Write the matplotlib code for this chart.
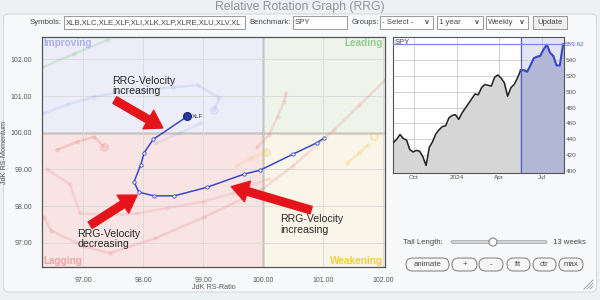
import matplotlib
matplotlib.use("Agg")
import matplotlib.pyplot as plt
from matplotlib.patches import Rectangle, FancyBboxPatch, Circle
import pandas as pd
import numpy as np

plt.rcParams['font.family'] = ['Liberation Sans', 'DejaVu Sans']

# ---------------- data ----------------
# XLF tail (JdK RS-Ratio, JdK RS-Momentum), oldest -> latest
xlf_ratio = [101.01, 100.90, 100.49, 99.95, 99.68, 99.06, 98.52, 98.18, 97.93, 97.85, 97.96, 98.02, 98.17, 98.74]
xlf_mom   = [99.85, 99.73, 99.41, 98.98, 98.87, 98.51, 98.28, 98.28, 98.38, 98.66, 99.12, 99.46, 99.82, 100.45]

# faded tails of the other symbols
green_ratio = [96.32, 96.85, 97.41]
green_mom   = [101.78, 102.15, 102.53]
lav1_ratio = [96.35, 96.75, 97.18, 97.6, 98.02, 98.5, 98.91, 99.27, 99.18]
lav1_mom   = [100.53, 100.78, 100.98, 101.1, 101.16, 101.24, 101.3, 100.95, 100.62]
lav2_ratio = [98.21, 98.6, 98.96]
lav2_mom   = [99.71, 99.98, 100.26]
red1_ratio = [96.56, 96.9, 97.18, 97.35]
red1_mom   = [99.53, 99.75, 99.89, 99.62]
red2_ratio = [96.4, 96.78, 96.95, 97.45, 97.9, 98.4, 99.0, 99.5, 100.1]
red2_mom   = [99.0, 98.6, 97.8, 97.75, 97.8, 97.95, 98.12, 98.35, 98.75]
red3_ratio = [96.35, 96.47, 97.02, 97.45, 98.2, 99.02, 99.97, 100.5, 101.18, 101.6, 102.03]
red3_mom   = [97.7, 97.33, 96.9, 96.72, 97.12, 97.7, 98.44, 99.1, 100.07, 100.75, 101.43]
red4_ratio = [99.9, 100.1, 100.24, 100.35, 100.38]
red4_mom   = [99.6, 99.95, 100.44, 100.85, 101.07]
yel1_ratio = [101.4, 101.6, 101.74]
yel1_mom   = [99.17, 99.45, 99.66]
yel2_ratio = [99.55, 99.8, 100.05]
yel2_mom   = [99.1, 99.3, 99.48]
yel_heads_ratio = [101.85, 100.05]
yel_heads_mom   = [99.9, 99.48]

# SPY weekly closes
spy_start = '2023-08-18'
spy_close = [436, 440, 446, 441, 439, 427, 424, 426, 425, 418, 407, 430, 437, 447, 452, 456,
             457, 467, 470, 471, 465, 473, 479, 485, 491, 497, 496, 505, 509, 508, 507, 518,
             521, 517, 511, 494, 505, 509, 517, 527, 527, 525, 533, 542, 544, 545, 553, 559,
             549, 545, 533, 533, 559.62]
tail_len = 13

x_ticks = [97, 98, 99, 100, 101, 102]
y_ticks = [97, 98, 99, 100, 101, 102]
spy_yticks = [400, 420, 440, 460, 480, 500, 520, 540]

# ---------------- figure ----------------
W, H = 600, 300
fig = plt.figure(figsize=(6, 3), dpi=100)

def frac(x0, y0, x1, y1):
    return [x0 / W, 1 - y1 / H, (x1 - x0) / W, (y1 - y0) / H]

bg = fig.add_axes([0, 0, 1, 1], zorder=0)
bg.set_xlim(0, W)
bg.set_ylim(H, 0)
bg.axis('off')
bg.add_patch(Rectangle((0, 0), W, H, color='#eef1f4'))
bg.add_patch(FancyBboxPatch((3.5, 14), 593, 278, boxstyle='round,pad=0,rounding_size=5',
                            fc='#f8f9fa', ec='#d6dade', lw=0.8))
bg.text(300, 1.2, 'Relative Rotation Graph (RRG)', ha='center', va='top', fontsize=8.8, color='#8f959c')

tk = dict(fontsize=5.6, color='#444444', va='center')
cy = 22.5
bg.text(30, cy, 'Symbols:', **tk)
def box(x0, x1, label, arrow=False, button=False):
    fc = '#efefef' if button else 'white'
    bg.add_patch(Rectangle((x0, cy - 6.5), x1 - x0, 13, fc=fc, ec='#8a8a8a', lw=0.6))
    bg.text(x0 + (x1 - x0) / 2 if button else x0 + 2, cy, label,
            ha='center' if button else 'left', **tk)
    if arrow:
        bg.text(x1 - 4, cy, 'v', ha='right', fontsize=5, color='#444444', va='center', fontweight='bold')
box(63.5, 245, 'XLB,XLC,XLE,XLF,XLI,XLK,XLP,XLRE,XLU,XLV,XL')
bg.text(249, cy, 'Benchmark:', **tk)
box(293, 347, 'SPY')
bg.text(352, cy, 'Groups:', **tk)
box(380, 433, '- Select -', arrow=True)
box(437, 483, '1 year', arrow=True)
box(486, 528, 'Weekly', arrow=True)
box(533, 567, 'Update', button=True)

# slider
sy = 242
bg.text(403, sy, 'Tail Length:', **tk)
bg.add_patch(FancyBboxPatch((451, sy - 1.3), 96, 2.6, boxstyle='round,pad=0,rounding_size=1.3',
                            fc='#d5d5d5', ec='#9a9a9a', lw=0.5))
bg.add_patch(Circle((493, sy), 4, fc='white', ec='#777777', lw=0.7))
bg.text(553, sy, f'{tail_len} weeks', **tk)
by = 264.5
for lab, x0, x1 in [('animate', 406, 449), ('+', 452, 477), ('-', 479, 503),
                    ('fit', 507, 530), ('ctr', 533, 556), ('max', 559, 583)]:
    bg.add_patch(FancyBboxPatch((x0, by - 6.5), x1 - x0, 13, boxstyle='round,pad=0,rounding_size=6.5',
                                fc='#f6f6f6', ec='#7a7a7a', lw=0.7))
    bg.text((x0 + x1) / 2, by, lab, ha='center', **tk)
for d in (3, 6, 9):
    bg.plot([593 - d, 593], [289, 289 - d], color='#999999', lw=0.6)

# ---------------- RRG ----------------
ax = fig.add_axes(frac(42, 37, 385, 267), zorder=2)
xmin, xmax, ymin, ymax = 96.317, 102.03, 96.34, 102.61
ax.set_xlim(xmin, xmax)
ax.set_ylim(ymin, ymax)
ax.add_patch(Rectangle((xmin, 100), 100 - xmin, ymax - 100, color='#ecedf8', zorder=0))
ax.add_patch(Rectangle((100, 100), xmax - 100, ymax - 100, color='#eef4ea', zorder=0))
ax.add_patch(Rectangle((xmin, ymin), 100 - xmin, 100 - ymin, color='#f9e4e4', zorder=0))
ax.add_patch(Rectangle((100, ymin), xmax - 100, 100 - ymin, color='#f9f5e8', zorder=0))
ax.set_xticks(x_ticks)
ax.set_yticks(y_ticks)
ax.set_xticklabels([f'{v:.2f}' for v in x_ticks])
ax.set_yticklabels([f'{v:.2f}' for v in y_ticks])
ax.grid(True, color='#d9d9d9', lw=0.6, zorder=0.5)
ax.tick_params(length=0, labelsize=5, labelcolor='#555555', pad=7)
ax.set_xlabel('JdK RS-Ratio', fontsize=5.2, color='#555555', labelpad=0)
ax.set_ylabel('JdK RS-Momentum', fontsize=5.2, color='#555555', labelpad=2)
for s in ax.spines.values():
    s.set_color('#555555')
    s.set_linewidth(0.9)
ax.axvline(100, color='#666666', lw=1, zorder=1)
ax.axhline(100, color='#666666', lw=1, zorder=1)

ax.text(xmin + 0.03, ymax - 0.03, 'Improving', color='#a8b0ea', fontsize=7.2, fontweight='bold', ha='left', va='top')
ax.text(xmax - 0.03, ymax - 0.03, 'Leading', color='#92cc92', fontsize=7.2, fontweight='bold', ha='right', va='top')
ax.text(xmin + 0.03, ymin + 0.03, 'Lagging', color='#f2a2a2', fontsize=7.2, fontweight='bold', ha='left', va='bottom')
ax.text(xmax - 0.03, ymin + 0.03, 'Weakening', color='#f2cc45', fontsize=7.2, fontweight='bold', ha='right', va='bottom')

def faded(xs, ys, c, a, head=True):
    ax.plot(xs, ys, color=c, alpha=a, lw=1.8, solid_capstyle='round', zorder=2)
    ax.plot(xs, ys, 'o', ms=2.2, mfc='none', mec=c, alpha=a, mew=0.8, zorder=2)
    if head:
        ax.plot(xs[-1], ys[-1], 'o', ms=5, mfc='none', mec=c, alpha=a + 0.05, mew=1, zorder=2)

faded(green_ratio, green_mom, '#7cc07c', 0.25, head=False)
faded(lav1_ratio, lav1_mom, '#8090e0', 0.16)
faded(lav2_ratio, lav2_mom, '#8090e0', 0.15, head=False)
faded(red1_ratio, red1_mom, '#e86a6a', 0.25)
faded(red2_ratio, red2_mom, '#e87878', 0.18, head=False)
faded(red3_ratio, red3_mom, '#e87878', 0.22, head=False)
faded(red4_ratio, red4_mom, '#e87878', 0.22, head=False)
faded(yel1_ratio, yel1_mom, '#f0c040', 0.25, head=False)
faded(yel2_ratio, yel2_mom, '#f0c040', 0.2, head=False)
ax.plot(yel_heads_ratio, yel_heads_mom, 'o', ms=5, mfc='none', mec='#f0c040', alpha=0.4, mew=1, zorder=2)

ax.plot(xlf_ratio, xlf_mom, color='#3848c8', lw=1.1, marker='o', ms=2.4, mfc='white', mec='#3848c8', mew=0.6, zorder=5)
ax.plot(xlf_ratio[-1], xlf_mom[-1], 'o', ms=5.5, color='#2b3aa6', mec='#1a2580', zorder=6)
ax.text(xlf_ratio[-1] + 0.08, xlf_mom[-1], 'XLF', fontsize=4.5, color='#333333', va='center', zorder=6)

red = '#e5141b'
ap = dict(arrowstyle='simple,head_length=1.1,head_width=1.4,tail_width=0.5', color=red,
          mutation_scale=11, shrinkA=0, shrinkB=0)
ax.annotate('', xy=(98.33, 100.13), xytext=(97.53, 100.89), arrowprops=ap, zorder=7)
ax.annotate('', xy=(97.90, 98.30), xytext=(97.12, 97.48), arrowprops=ap, zorder=7)
ax.annotate('', xy=(99.47, 98.53), xytext=(100.80, 97.89), arrowprops=ap, zorder=7)
tkw = dict(fontsize=7.6, color='#2a2a2a', ha='left', va='top', linespacing=1.05, zorder=8)
ax.text(97.48, 101.55, 'RRG-Velocity\nincreasing', **tkw)
ax.text(96.90, 97.38, 'RRG-Velocity\ndecreasing', **tkw)
ax.text(100.28, 97.78, 'RRG-Velocity\nincreasing', **tkw)

# ---------------- SPY ----------------
sx = fig.add_axes(frac(393, 37, 564, 173), zorder=2)
dates = pd.date_range(spy_start, periods=len(spy_close), freq='W-FRI')
vals = np.array(spy_close)
sx.set_xlim(dates[0] - pd.Timedelta(days=1), dates[-1] + pd.Timedelta(days=2))
sx.set_ylim(397.5, 568.8)
sx.set_facecolor('white')
k = len(vals) - tail_len - 1
sx.axvspan(dates[k], dates[-1] + pd.Timedelta(days=2), color='#e3e5f4', zorder=0)
sx.fill_between(dates, 397.5, vals, color='#d6d6d6', zorder=1)
sx.fill_between(dates[k:], 397.5, vals[k:], color='#b3b7d6', zorder=1)
sx.plot(dates[:k + 1], vals[:k + 1], color='#222222', lw=1.1, zorder=3)
sx.plot(dates[k:], vals[k:], color='#3a48c8', lw=1.5, zorder=3)
sx.axvline(dates[k], color='#5060d8', lw=0.9, zorder=3)
sx.axhline(vals[-1], color='#7c88e0', lw=0.9, zorder=3)
sx.set_xticks([pd.Timestamp('2023-10-01'), pd.Timestamp('2024-01-01'),
               pd.Timestamp('2024-04-01'), pd.Timestamp('2024-07-01')])
sx.set_xticklabels(['Oct', '2024', 'Apr', 'Jul'])
sx.set_yticks(spy_yticks)
sx.yaxis.tick_right()
sx.grid(True, color='#c8c8c8', lw=0.6, zorder=0.5)
sx.set_axisbelow(True)
sx.tick_params(length=0, labelsize=4.6, labelcolor='#555555', pad=1.5)
for s in sx.spines.values():
    s.set_color('#555555')
    s.set_linewidth(0.8)
sx.text(1.005, (vals[-1] - 397.5) / (568.8 - 397.5), f'{vals[-1]:.2f}', transform=sx.transAxes,
        fontsize=4.6, color='#5060d0', va='center', ha='left')
sx.text(0.01, 0.985, 'SPY', transform=sx.transAxes, fontsize=5.5, color='#777777', va='top', ha='left',
        fontweight='bold', zorder=4)

fig.savefig('out.png', dpi=100)
